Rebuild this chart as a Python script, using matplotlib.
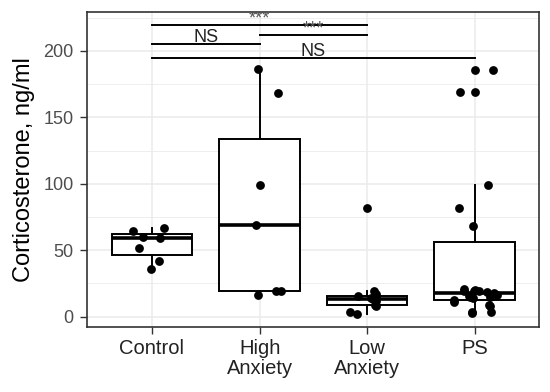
import matplotlib
matplotlib.use('Agg')
import matplotlib.pyplot as plt
import numpy as np

plt.rcParams['font.family'] = ['Liberation Sans', 'DejaVu Sans']

groups = ['Control', 'High\nAnxiety', 'Low\nAnxiety', 'PS']

control = [64.5, 66.9, 60.3, 59.3, 51.8, 41.7, 36.0]
control_jit = [-0.174, 0.115, -0.088, 0.077, -0.125, 0.062, -0.007]

high = [186.0, 168.6, 98.8, 69.0, 16.6, 19.6, 19.6]
high_jit = [-0.016, 0.171, 0.0, -0.031, -0.016, 0.156, 0.202]

low = [81.6, 19.4, 17.0, 15.6, 15.3, 14.3, 13.0, 11.8, 9.0, 8.1, 3.5, 1.7]
low_jit = [0.0, 0.063, 0.08, 0.08, -0.084, 0.032, 0.053, 0.08, 0.071, 0.08, -0.155, -0.093]

ps = [185.5, 185.5, 169.1, 169.1, 98.8, 81.6, 68.6,
      2.5, 3.2, 3.5, 8.3, 9.0, 10.8, 12.5, 13.8, 14.6, 14.6,
      15.5, 16.5, 17.5, 18.3, 19.0, 19.6, 19.6, 20.1, 20.5]
ps_jit = [0.0, 0.17, -0.134, 0.0, 0.12, -0.15, -0.015,
          -0.024, 0.153, -0.021, 0.140, 0.131, -0.189, -0.196, -0.019, -0.04, 0.140,
          -0.056, 0.208, 0.183, 0.115, 0.044, -0.102, -0.009, 0.006, -0.096]

# significance brackets: (from group, to group, height, label)
brk_from = [1, 2, 1, 1]
brk_to = [3, 3, 2, 4]
brk_y = [219.4, 211.8, 205.3, 194.7]
brk_lbl = ['***', '***', 'NS', 'NS']

yticks = [0, 50, 100, 150, 200]

fig = plt.figure(figsize=(5.5, 3.92), dpi=100)
ax = fig.add_axes([0.159, 0.1666, 0.8215, 0.8034])

ax.set_xlim(0.4, 4.6)
ax.set_ylim(-7.5, 229.4)

# grid like theme_bw
for y in [25, 75, 125, 175, 225]:
    ax.axhline(y, color='#ebebeb', lw=0.6, zorder=0)
for y in yticks:
    ax.axhline(y, color='#ebebeb', lw=1.1, zorder=0)
for x in range(1, 5):
    ax.axvline(x, color='#ebebeb', lw=1.1, zorder=0)

data = [control, high, low, ps]
jits = [control_jit, high_jit, low_jit, ps_jit]

ax.boxplot(data, positions=[1, 2, 3, 4], widths=0.75, whis=1.5,
           showfliers=False, showcaps=False, patch_artist=True,
           boxprops=dict(facecolor='white', edgecolor='black', linewidth=1.4),
           whiskerprops=dict(color='black', linewidth=1.4),
           medianprops=dict(color='black', linewidth=2.6),
           zorder=2)

for i in range(4):
    xs = np.array(jits[i]) + i + 1
    ax.scatter(xs, data[i], s=40, color='black', zorder=3, linewidths=0)

for a, b, y, t in zip(brk_from, brk_to, brk_y, brk_lbl):
    ax.plot([a, b], [y, y], color='black', lw=1.4, zorder=4)
    c = '#555555' if t == '***' else '#222222'
    ax.text((a + b) / 2, y + 1.3, t, ha='center', va='baseline',
            fontsize=13, color=c, zorder=4, clip_on=True)

ax.set_xticks([1, 2, 3, 4])
ax.set_xticklabels(groups, fontsize=14.5, color='#222222', linespacing=1.05)
ax.set_yticks(yticks)
ax.set_yticklabels([str(v) for v in yticks], fontsize=13, color='#4d4d4d')
ax.tick_params(axis='both', length=5, width=1, color='#333333')
ax.tick_params(axis='x', pad=4)
ax.tick_params(axis='y', pad=5)

for s in ax.spines.values():
    s.set_color('#333333')
    s.set_linewidth(1.2)

ax.set_ylabel('Corticosterone, ng/ml', fontsize=17, labelpad=6)

fig.savefig('out.png', dpi=100)
